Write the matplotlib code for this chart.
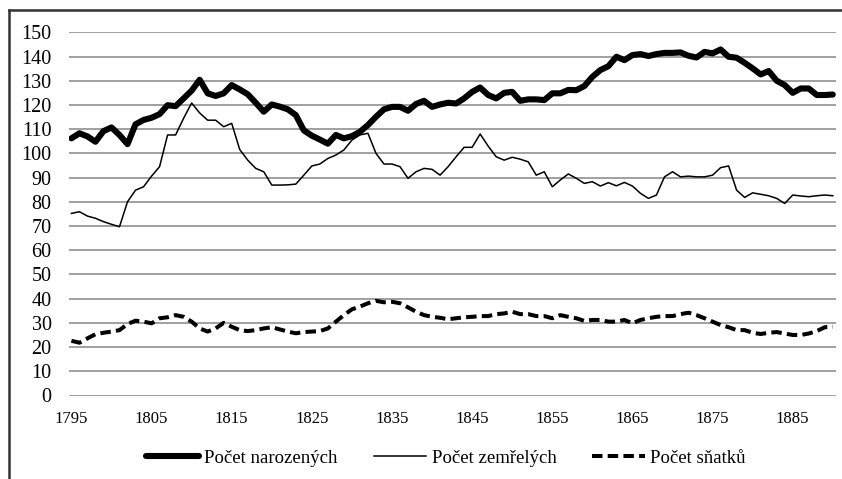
import matplotlib
matplotlib.use("Agg")
import matplotlib.pyplot as plt
from matplotlib.lines import Line2D

plt.rcParams['font.family'] = ['Liberation Serif', 'DejaVu Serif']

# roky 1795-1890
years = list(range(1795, 1891))

# Počet narozených
births = [
    106.2, 108.3, 107.0, 104.8, 109.2, 110.7, 107.6, 103.8, 112.0, 113.8,
    114.7, 116.2, 119.9, 119.5, 122.7, 125.9, 130.4, 124.8, 123.7, 124.8,
    128.2, 126.4, 124.4, 120.9, 117.2, 120.2, 119.3, 118.2, 115.8, 109.5,
    107.3, 105.7, 104.0, 107.6, 106.2, 107.1, 108.9, 111.7, 115.1, 118.2,
    119.2, 119.2, 117.6, 120.4, 121.7, 119.2, 120.2, 120.9, 120.6, 122.7,
    125.4, 127.2, 124.1, 122.7, 125.0, 125.4, 121.7, 122.3, 122.3, 122.0,
    124.8, 124.8, 126.2, 126.1, 127.8, 131.6, 134.4, 136.0, 139.9, 138.5,
    140.6, 141.0, 140.2, 141.0, 141.5, 141.5, 141.7, 140.3, 139.6, 141.9,
    141.3, 142.9, 139.9, 139.5, 137.4, 135.1, 132.6, 134.0, 130.0, 128.2,
    125.0, 126.8, 126.8, 124.1, 124.1, 124.3,
]

# Počet zemřelých
deaths = [
    75.2, 75.9, 74.1, 73.2, 71.8, 70.7, 69.7, 80.0, 84.8, 86.2,
    90.6, 94.5, 107.6, 107.6, 114.5, 120.8, 116.7, 113.7, 113.7, 111.0,
    112.4, 101.6, 97.2, 93.8, 92.4, 86.9, 86.9, 87.0, 87.3, 91.0,
    94.8, 95.6, 97.9, 99.3, 101.4, 105.5, 107.6, 108.3, 100.0, 95.6,
    95.6, 94.5, 89.7, 92.4, 93.8, 93.4, 91.0, 94.5, 98.6, 102.5,
    102.5, 108.0, 103.0, 98.6, 97.2, 98.4, 97.6, 96.5, 91.0, 92.4,
    86.2, 89.0, 91.5, 89.7, 87.6, 88.3, 86.5, 87.9, 86.6, 88.0,
    86.5, 83.5, 81.4, 82.8, 90.3, 92.4, 90.3, 90.6, 90.3, 90.3,
    91.0, 94.1, 94.8, 84.8, 81.8, 83.7, 83.1, 82.5, 81.4, 79.3,
    82.8, 82.4, 82.1, 82.5, 82.8, 82.5,
]

# Počet sňatků
marriages = [
    22.6, 21.8, 23.6, 25.3, 25.9, 26.4, 27.0, 29.5, 30.9, 30.5,
    29.8, 31.9, 32.3, 33.2, 32.5, 30.5, 27.7, 26.4, 27.7, 30.0,
    28.4, 27.0, 26.6, 27.0, 27.7, 28.2, 27.3, 26.4, 25.7, 26.2,
    26.4, 26.6, 27.7, 30.5, 33.2, 35.6, 36.7, 38.1, 39.1, 38.5,
    38.7, 38.1, 36.4, 34.6, 33.2, 32.5, 32.1, 31.5, 31.9, 32.3,
    32.5, 32.8, 32.8, 33.6, 33.9, 34.6, 33.6, 33.6, 32.8, 32.8,
    31.9, 33.2, 32.5, 31.9, 30.8, 31.2, 31.2, 30.5, 30.5, 31.2,
    29.8, 31.2, 31.9, 32.5, 32.8, 32.8, 33.6, 34.2, 33.2, 31.9,
    30.5, 29.1, 28.2, 27.0, 27.0, 25.9, 25.4, 25.9, 26.2, 25.6,
    25.0, 25.0, 25.6, 26.6, 28.2, 28.4,
]

labels = ["Počet narozených", "Počet zemřelých", "Počet sňatků"]
x_ticks = list(range(1795, 1886, 10))
y_ticks = list(range(0, 151, 10))

W, H = 842, 479
fig = plt.figure(figsize=(W / 100, H / 100), dpi=100)
ax = fig.add_axes([69 / W, 1 - 395.5 / H, (836 - 69) / W, (395.5 - 32.3) / H])

ax.plot(years, births, color="black", lw=4.4, solid_joinstyle="round",
        solid_capstyle="round", label=labels[0])
ax.plot(years, deaths, color="black", lw=1.1, label=labels[1])
ax.plot(years, marriages, color="black", lw=2.9, dashes=(2.6, 1.3),
        dash_capstyle="butt", label=labels[2])

ax.set_xlim(1794.7, 1890.4)
ax.set_ylim(0, 150)
ax.set_xticks(x_ticks)
ax.set_xticklabels([str(v) for v in x_ticks], fontsize=12)
ax.set_yticks(y_ticks)
ax.set_yticklabels([str(v) for v in y_ticks], fontsize=14.5)
ax.tick_params(axis="both", length=0)
ax.tick_params(axis="y", pad=12.5)
ax.tick_params(axis="x", pad=11)
ax.grid(axis="y", color="#999999", lw=1.3)
ax.set_axisbelow(True)
for s in ax.spines.values():
    s.set_visible(False)

fig.legend(loc="center", bbox_to_anchor=(446 / W, 1 - 458 / H), ncol=3,
           frameon=False, fontsize=13.5, handlelength=2.8, handletextpad=0.3,
           columnspacing=1.9)

# rámeček kolem grafu
fig.add_artist(Line2D([9 / W, 9 / W], [0, 1 - 10 / H], transform=fig.transFigure,
                      color="#333333", lw=1.8))
fig.add_artist(Line2D([9 / W, 1], [1 - 10 / H, 1 - 10 / H], transform=fig.transFigure,
                      color="#333333", lw=1.8))

fig.savefig("out.png", dpi=100)
